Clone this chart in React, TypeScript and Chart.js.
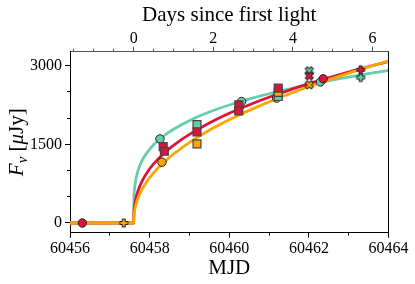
import React, { useEffect, useRef } from 'react';
import { Chart, registerables } from 'chart.js';

Chart.register(...registerables);

// ---------- axes ----------
const mjdMin = 60456;
const mjdMax = 60464;
const firstLightMjd = 60457.6;
const fluxMin = -185;
const fluxMax = 3267;
const mjdTicks = [60456, 60458, 60460, 60462, 60464];
const mjdMinorTicks = [60457, 60459, 60461, 60463];
const dayTicks = [0, 2, 4, 6];
const dayMinorTicks = [-1.5, -1, -0.5, 0.5, 1, 1.5, 2.5, 3, 3.5, 4.5, 5, 5.5];
const fluxTicks = [0, 1500, 3000];
const fluxMinorTicks = [500, 1000, 2000, 2500];

// ---------- model curves ----------
const curveMjd = [60456, 60457.6, 60457.605, 60457.62, 60457.65, 60457.7, 60457.8, 60457.95, 60458.1, 60458.35, 60458.6, 60459.1, 60459.6, 60460.1, 60460.6, 60461.1, 60461.6, 60462.1, 60462.6, 60463.1, 60463.6, 60464];
const curveTeal = [0, 0, 447, 642, 816, 979, 1174, 1359, 1492, 1659, 1789, 1989, 2145, 2274, 2386, 2484, 2573, 2653, 2728, 2796, 2861, 2909];
const curveRed = [0, 0, 182, 316, 453, 596, 784, 978, 1126, 1321, 1480, 1737, 1946, 2125, 2284, 2428, 2559, 2681, 2794, 2902, 3004, 3081];
const curveOrange = [0, 0, 115, 218, 332, 456, 628, 812, 957, 1153, 1316, 1586, 1810, 2006, 2181, 2342, 2490, 2628, 2758, 2883, 3001, 3091];

// ---------- observations ----------
const circleTealMjd = [60458.26, 60460.31, 60462.29];
const circleTealFlux = [1604, 2317, 2690];
const circleRedMjd = [60456.31, 60462.36];
const circleRedFlux = [0, 2750];
const circleOrangeMjd = [60458.31, 60461.19];
const circleOrangeFlux = [1160, 2382];

const squareTealMjd = [60459.19, 60461.23];
const squareTealFlux = [1878, 2412];
const squareRedMjd = [60458.34, 60458.37, 60459.19, 60460.24, 60460.24, 60461.23];
const squareRedFlux = [1457, 1369, 1738, 2254, 2139, 2573];
const squareOrangeMjd = [60459.19, 60461.23];
const squareOrangeFlux = [1509, 2489];

const xTealMjd = [60462.01];
const xTealFlux = [2903];
const xRedMjd = [60462.01];
const xRedFlux = [2808];
const xOrangeMjd = [60462.01];
const xOrangeFlux = [2636];

const plusOrangeMjd = [60457.35];
const plusOrangeFlux = [0];
const plusRedMjd = [60463.3];
const plusRedFlux = [2922];
const plusTealMjd = [60463.3];
const plusTealFlux = [2775];

const TEAL = '#66CDAA';
const RED = '#DC143C';
const ORANGE = '#FFA500';
const FONT = '"Liberation Serif", "Times New Roman", serif';

const pts = (xs: number[], ys: number[]) => xs.map((x, i) => ({ x, y: ys[i] }));

function makeMarker(kind: 'P' | 'X', color: string): HTMLCanvasElement {
  const s = 12;
  const c = document.createElement('canvas');
  c.width = s;
  c.height = s;
  const g = c.getContext('2d')!;
  g.translate(s / 2, s / 2);
  if (kind === 'X') g.rotate(Math.PI / 4);
  const a = kind === 'X' ? 4.3 : 4;
  const b = 1.5;
  g.beginPath();
  g.moveTo(-b, -a); g.lineTo(b, -a); g.lineTo(b, -b); g.lineTo(a, -b); g.lineTo(a, b); g.lineTo(b, b);
  g.lineTo(b, a); g.lineTo(-b, a); g.lineTo(-b, b); g.lineTo(-a, b); g.lineTo(-a, -b); g.lineTo(-b, -b);
  g.closePath();
  g.fillStyle = color;
  g.fill();
  g.lineWidth = 1;
  g.strokeStyle = '#222';
  g.stroke();
  return c;
}

const align = (v: number) => Math.round(v - 0.5) + 0.5;

const extrasPlugin = {
  id: 'extras',
  afterDraw(chart: any) {
    const ctx = chart.ctx as CanvasRenderingContext2D;
    const { x, x2, y } = chart.scales;
    const area = chart.chartArea;
    ctx.save();
    ctx.lineWidth = 1;
    ctx.strokeStyle = '#000';
    // minor ticks bottom
    mjdMinorTicks.forEach((v) => {
      const px = align(x.getPixelForValue(v));
      ctx.beginPath(); ctx.moveTo(px, area.bottom); ctx.lineTo(px, area.bottom + 3); ctx.stroke();
    });
    // minor ticks left
    fluxMinorTicks.forEach((v) => {
      const py = align(y.getPixelForValue(v));
      ctx.beginPath(); ctx.moveTo(area.left, py); ctx.lineTo(area.left - 3, py); ctx.stroke();
    });
    // minor ticks top
    ctx.strokeStyle = '#555';
    dayMinorTicks.forEach((v) => {
      const px = align(x2.getPixelForValue(v));
      ctx.beginPath(); ctx.moveTo(px, area.top); ctx.lineTo(px, area.top - 3); ctx.stroke();
    });
    // right spine
    ctx.strokeStyle = '#000';
    const rx = align(area.right);
    ctx.beginPath(); ctx.moveTo(rx, area.top); ctx.lineTo(rx, area.bottom + 0.5); ctx.stroke();

    // y title: F_nu [muJy]
    const cy = (area.top + area.bottom) / 2;
    ctx.translate(23, cy);
    ctx.rotate(-Math.PI / 2);
    const parts = [
      { t: 'F', f: `italic 21px ${FONT}`, dy: 0 },
      { t: 'ν', f: `italic 15px ${FONT}`, dy: 4 },
      { t: ' [', f: `21px ${FONT}`, dy: 0 },
      { t: 'μ', f: `italic 21px ${FONT}`, dy: 0 },
      { t: 'Jy]', f: `21px ${FONT}`, dy: 0 },
    ];
    let total = 0;
    const widths = parts.map((p) => {
      ctx.font = p.f;
      const w = ctx.measureText(p.t).width;
      total += w;
      return w;
    });
    let cx = -total / 2;
    ctx.fillStyle = '#000';
    ctx.textBaseline = 'alphabetic';
    ctx.textAlign = 'left';
    parts.forEach((p, i) => {
      ctx.font = p.f;
      ctx.fillText(p.t, cx, p.dy);
      cx += widths[i];
    });
    ctx.restore();
  },
};

export default function App() {
  const ref = useRef<HTMLCanvasElement | null>(null);

  useEffect(() => {
    if (!ref.current) return;
    const line = (data: number[], color: string, order: number) => ({
      type: 'line' as const,
      data: pts(curveMjd, data),
      borderColor: color,
      backgroundColor: color,
      borderWidth: 2.8,
      pointRadius: 0,
      pointHoverRadius: 0,
      showLine: true,
      fill: false,
      cubicInterpolationMode: 'monotone' as const,
      clip: 0,
      order,
    });
    const marks = (xs: number[], ys: number[], color: string, style: any, radius: number, order: number, edge = '#222', bw = 1) => ({
      type: 'scatter' as const,
      data: pts(xs, ys),
      backgroundColor: color,
      borderColor: edge,
      borderWidth: bw,
      pointStyle: style,
      pointRadius: radius,
      pointHoverRadius: radius,
      showLine: false,
      clip: false,
      order,
    });

    const chart = new Chart(ref.current, {
      type: 'scatter',
      data: {
        datasets: [
          line(curveTeal, TEAL, 22),
          line(curveRed, RED, 21),
          line(curveOrange, ORANGE, 20),
          marks(circleTealMjd, circleTealFlux, TEAL, 'circle', 4.2, 15),
          marks(circleOrangeMjd, circleOrangeFlux, ORANGE, 'circle', 4.2, 14),
          marks(circleRedMjd, circleRedFlux, RED, 'circle', 4.2, 13),
          marks(squareTealMjd, squareTealFlux, TEAL, 'rect', 5.6, 12, '#444', 1.2),
          marks(squareOrangeMjd, squareOrangeFlux, ORANGE, 'rect', 5.6, 11, '#444', 1.2),
          marks(squareRedMjd, squareRedFlux, RED, 'rect', 5.6, 10, '#444', 1.2),
          marks(xTealMjd, xTealFlux, TEAL, makeMarker('X', TEAL), 5, 6),
          marks(xRedMjd, xRedFlux, RED, makeMarker('X', RED), 5, 5),
          marks(xOrangeMjd, xOrangeFlux, ORANGE, makeMarker('X', ORANGE), 5, 4),
          marks(plusTealMjd, plusTealFlux, TEAL, makeMarker('P', TEAL), 5, 3),
          marks(plusRedMjd, plusRedFlux, RED, makeMarker('P', RED), 5, 2),
          marks(plusOrangeMjd, plusOrangeFlux, ORANGE, makeMarker('P', ORANGE), 5, 1),
        ] as any,
      },
      options: {
        animation: false,
        responsive: false,
        events: [],
        layout: { padding: { left: 0, right: 26.5, top: 0, bottom: 0 } },
        plugins: { legend: { display: false }, tooltip: { enabled: false } },
        scales: {
          x: {
            type: 'linear',
            position: 'bottom',
            min: mjdMin,
            max: mjdMax,
            afterBuildTicks: (s: any) => { s.ticks = mjdTicks.map((v) => ({ value: v })); },
            afterFit: (s: any) => { s.height = 51.3; },
            ticks: { font: { family: FONT, size: 16 }, color: '#000', padding: 1, maxRotation: 0, autoSkip: false, callback: (v: any) => String(v) },
            grid: { drawOnChartArea: false, drawTicks: true, tickLength: 5, tickColor: '#000', tickWidth: 1 },
            border: { display: true, color: '#000', width: 1 },
            title: { display: true, text: 'MJD', font: { family: FONT, size: 21 }, color: '#000', padding: { top: 0, bottom: 3.4 } },
          },
          x2: {
            type: 'linear',
            position: 'top',
            min: mjdMin - firstLightMjd,
            max: mjdMax - firstLightMjd,
            afterBuildTicks: (s: any) => { s.ticks = dayTicks.map((v) => ({ value: v })); },
            afterFit: (s: any) => { s.height = 51.7; },
            ticks: { font: { family: FONT, size: 16 }, color: '#000', padding: -2, maxRotation: 0, autoSkip: false, callback: (v: any) => String(v) },
            grid: { drawOnChartArea: false, drawTicks: true, tickLength: 5, tickColor: '#555', tickWidth: 1 },
            border: { display: true, color: '#555', width: 1 },
            title: { display: true, text: 'Days since first light', font: { family: FONT, size: 21 }, color: '#000', padding: { top: 2.4, bottom: 0 } },
          },
          y: {
            type: 'linear',
            position: 'left',
            min: fluxMin,
            max: fluxMax,
            afterBuildTicks: (s: any) => { s.ticks = fluxTicks.map((v) => ({ value: v })); },
            afterFit: (s: any) => { s.width = 70; },
            ticks: { font: { family: FONT, size: 16 }, color: '#000', padding: 3, autoSkip: false, callback: (v: any) => String(v) },
            grid: { drawOnChartArea: false, drawTicks: true, tickLength: 5, tickColor: '#000', tickWidth: 1 },
            border: { display: true, color: '#000', width: 1 },
          },
        },
      } as any,
      plugins: [extrasPlugin],
    });
    return () => chart.destroy();
  }, []);

  return (
    <div style={{ position: 'fixed', left: 0, top: 0, width: 415, height: 284, background: '#fff' }}>
      <canvas ref={ref} width={415} height={284} style={{ display: 'block' }} />
    </div>
  );
}
